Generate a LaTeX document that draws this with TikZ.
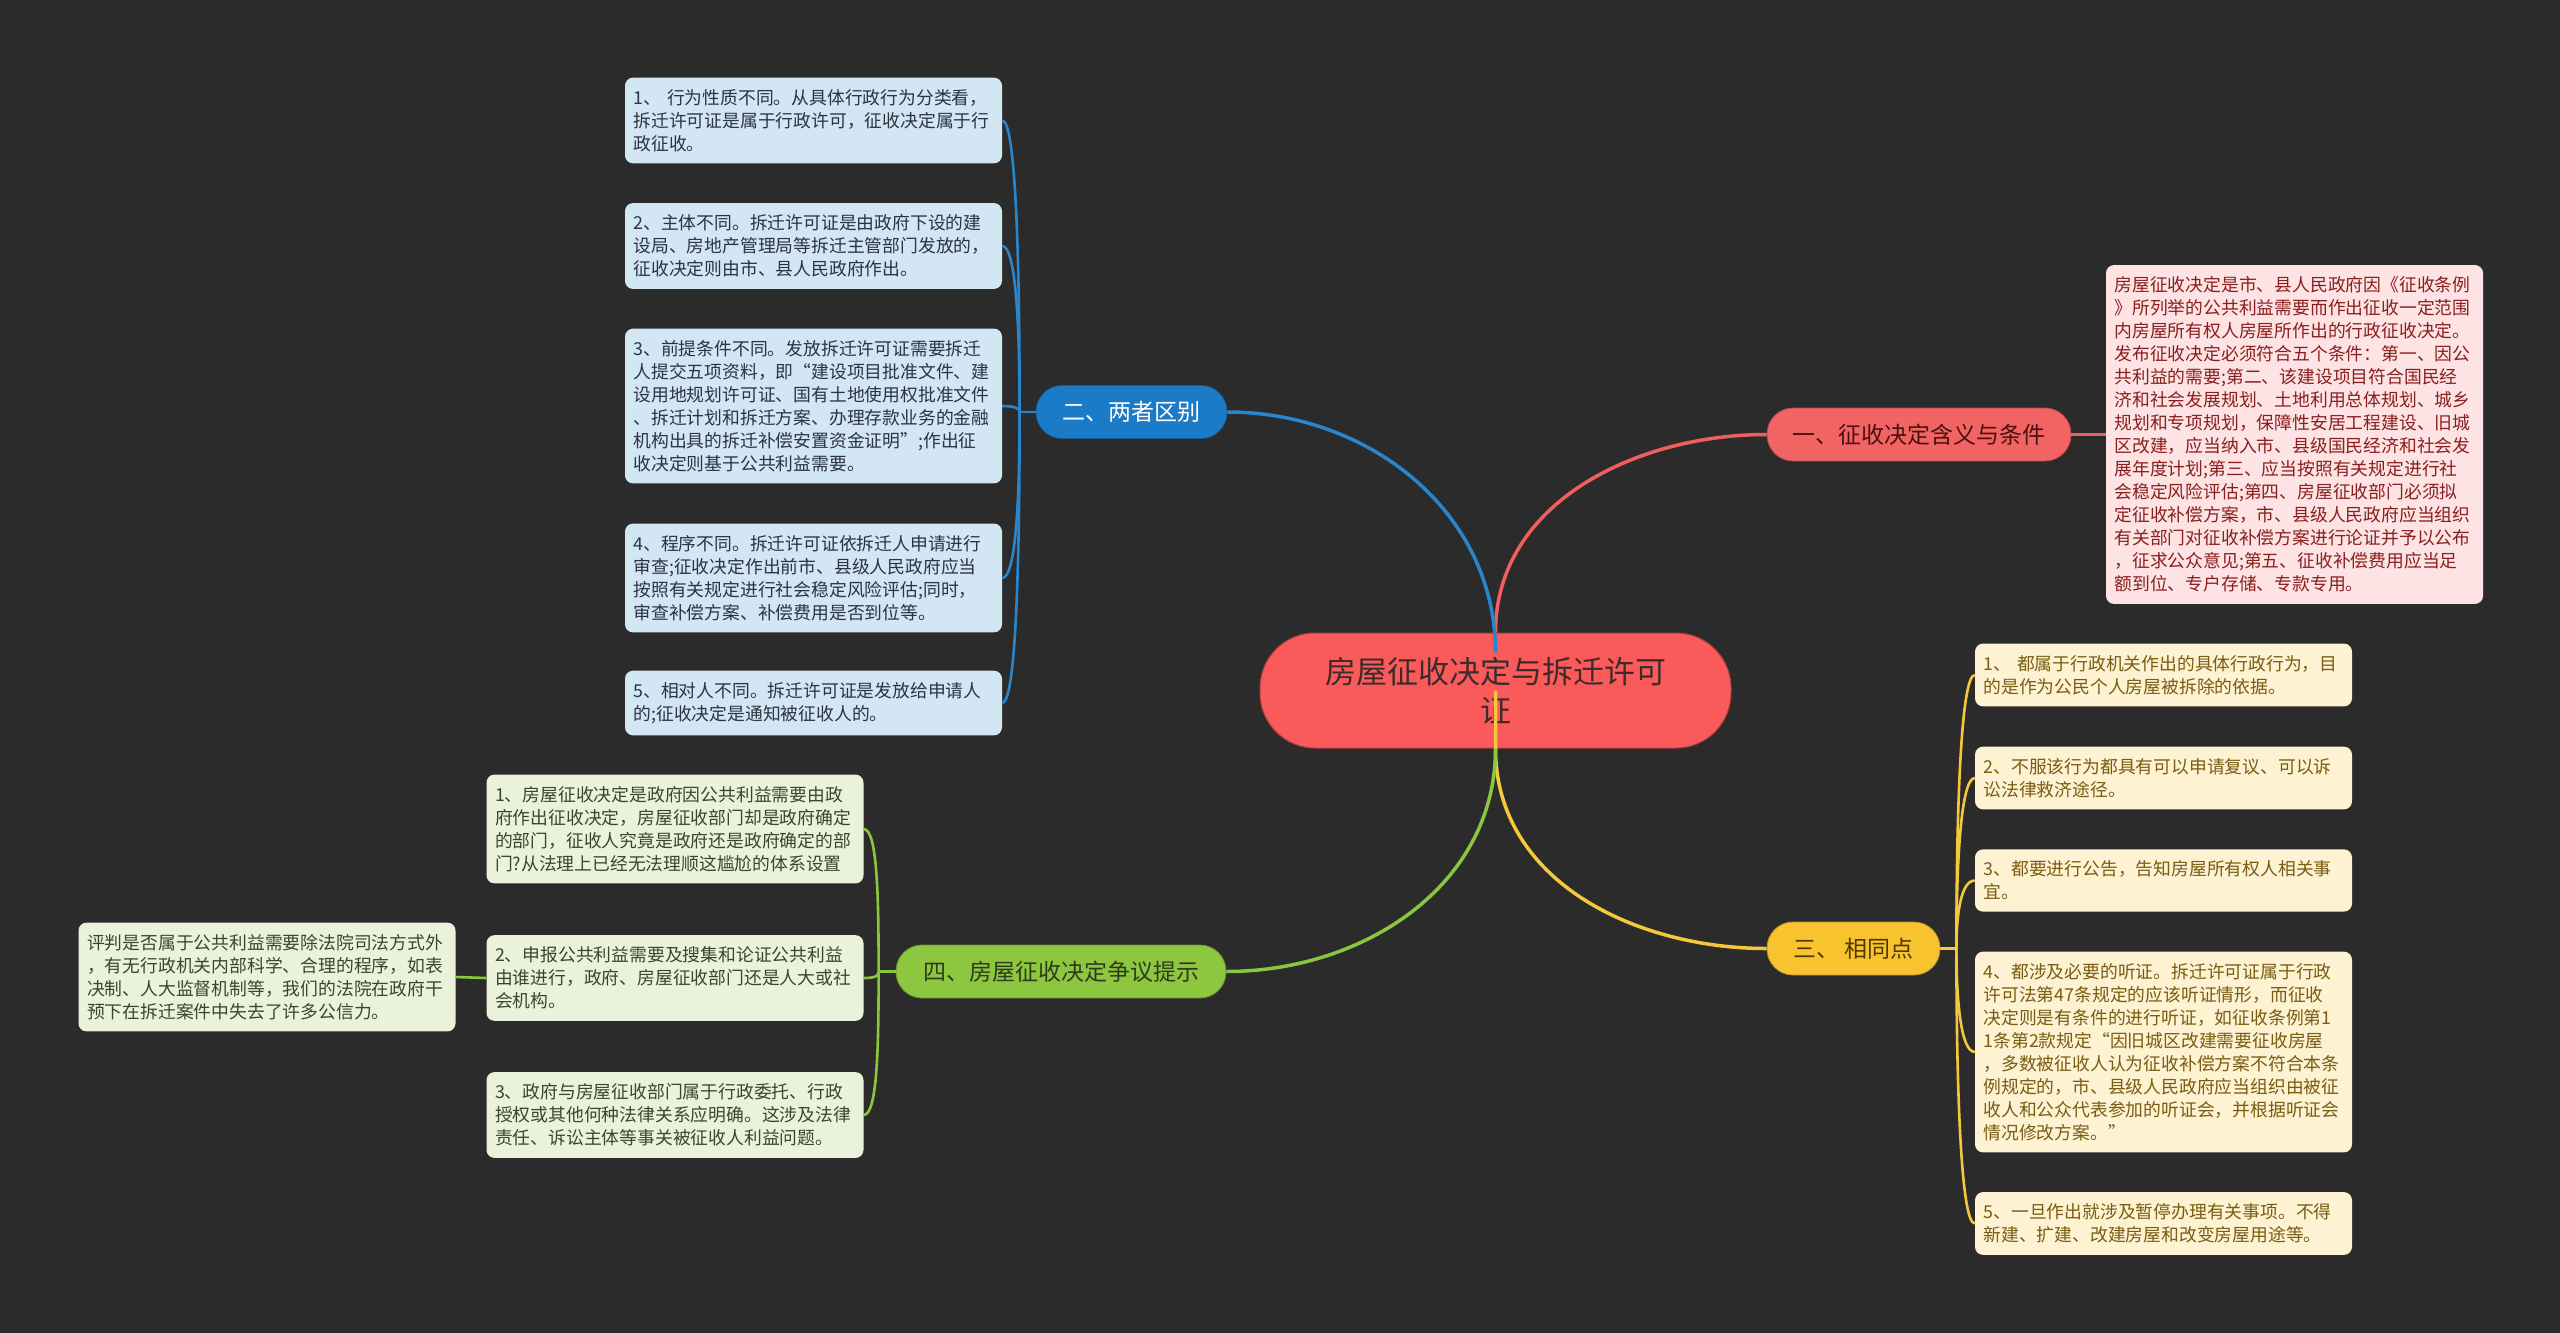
\documentclass[tikz,border=0pt]{standalone}
\usepackage{fontspec}
\setmainfont{Noto Sans CJK SC}
\usetikzlibrary{calc}
\definecolor{bgdark}{HTML}{2B2B2B}
\definecolor{rootred}{HTML}{FA5A5A}
\definecolor{roottext}{HTML}{3D2B2B}
\definecolor{defred}{HTML}{F26363}
\definecolor{deftext}{HTML}{4A1010}
\definecolor{defline}{HTML}{F05E5E}
\definecolor{defpale}{HTML}{FDE3E3}
\definecolor{defleaf}{HTML}{8A1F1F}
\definecolor{diffblue}{HTML}{1C7BC7}
\definecolor{diffline}{HTML}{2986CC}
\definecolor{diffpale}{HTML}{D3E6F4}
\definecolor{diffleaf}{HTML}{2B3440}
\definecolor{sameyel}{HTML}{F9C330}
\definecolor{sametext}{HTML}{4D3A00}
\definecolor{sameline}{HTML}{F5C83C}
\definecolor{samepale}{HTML}{FDF2D2}
\definecolor{sameleaf}{HTML}{7A5C12}
\definecolor{tipgreen}{HTML}{8DC63F}
\definecolor{tiptext}{HTML}{2F3B1C}
\definecolor{tipline}{HTML}{8BC63F}
\definecolor{tippale}{HTML}{EBF2DC}
\definecolor{tipleaf}{HTML}{3A4530}

\begin{document}
\begin{tikzpicture}[x=1pt, y=-1pt,
    root/.style={rectangle, rounded corners=55pt, fill=rootred,
                 draw=rootred!70!black, line width=1pt, minimum width=471pt,
                 minimum height=115pt, align=center, text=roottext,
                 font=\fontsize{31}{39}\selectfont},
    topic/.style={rectangle, rounded corners=26pt, minimum height=53pt,
                  inner sep=0pt, line width=0.8pt, font=\fontsize{23}{28}\selectfont},
    leaf/.style={rectangle, rounded corners=8pt, text width=360pt,
                 inner xsep=8.5pt, inner ysep=11.6pt, align=left,
                 font=\fontsize{17.8}{23}\selectfont},
    redleaf/.style={leaf, fill=defpale, text=defleaf},
    blueleaf/.style={leaf, fill=diffpale, text=diffleaf},
    yelleaf/.style={leaf, fill=samepale, text=sameleaf},
    grnleaf/.style={leaf, fill=tippale, text=tipleaf},
    link/.style={line width=3.5pt},
    twig/.style={line width=2.6pt}
  ]
    \fill[bgdark] (0,0) rectangle (2560,1333);

    \node[root] (c) at (1495.5,690.5) {房屋征收决定与拆迁许可\\证};
    \node[topic, fill=defred, draw=defred!75!black, text=deftext, minimum width=304pt] (def) at (1919,434.5) {一、征收决定含义与条件};
    \node[topic, fill=diffblue, draw=diffblue!75!black, text=white, minimum width=191pt] (diff) at (1131.5,412) {二、两者区别};
    \node[topic, fill=sameyel, draw=sameyel!75!black, text=sametext, minimum width=173pt] (same) at (1853.5,948.5) {三、 相同点};
    \node[topic, fill=tipgreen, draw=tipgreen!75!black, text=tiptext, minimum width=330pt] (tip) at (1061,971.5) {四、房屋征收决定争议提示};

    \draw[link, draw=defline] (c.north) .. controls +(0,-130) and +(-130,0) .. (def.west);
    \draw[link, draw=diffline] ([yshift=-20pt]c.north) .. controls +(0,-141) and +(141,0) .. (diff.east);
    \draw[link, draw=sameline] (c.center) -- (c.south) .. controls +(0,132) and +(-132,0) .. (same.west);
    \draw[link, draw=tipline] (c.south) .. controls +(0,137) and +(137,0) .. (tip.east);

    \node[redleaf] (def1) at (2294.5,434.5) {房屋征收决定是市、县人民政府因《征收条例\\》所列举的公共利益需要而作出征收一定范围\\内房屋所有权人房屋所作出的行政征收决定。\\发布征收决定必须符合五个条件：第一、因公\\共利益的需要;第二、该建设项目符合国民经\\济和社会发展规划、土地利用总体规划、城乡\\规划和专项规划，保障性安居工程建设、旧城\\区改建，应当纳入市、县级国民经济和社会发\\展年度计划;第三、应当按照有关规定进行社\\会稳定风险评估;第四、房屋征收部门必须拟\\定征收补偿方案，市、县级人民政府应当组织\\有关部门对征收补偿方案进行论证并予以公布\\，征求公众意见;第五、征收补偿费用应当足\\额到位、专户存储、专款专用。};

    \node[blueleaf] (diff1) at (813.5,120.5) {1、 行为性质不同。从具体行政行为分类看，\\拆迁许可证是属于行政许可，征收决定属于行\\政征收。};
    \node[blueleaf] (diff2) at (813.5,246) {2、主体不同。拆迁许可证是由政府下设的建\\设局、房地产管理局等拆迁主管部门发放的，\\征收决定则由市、县人民政府作出。};
    \node[blueleaf] (diff3) at (813.5,406) {3、前提条件不同。发放拆迁许可证需要拆迁\\人提交五项资料，即“建设项目批准文件、建\\设用地规划许可证、国有土地使用权批准文件\\、拆迁计划和拆迁方案、办理存款业务的金融\\机构出具的拆迁补偿安置资金证明”;作出征\\收决定则基于公共利益需要。};
    \node[blueleaf] (diff4) at (813.5,578) {4、程序不同。拆迁许可证依拆迁人申请进行\\审查;征收决定作出前市、县级人民政府应当\\按照有关规定进行社会稳定风险评估;同时，\\审查补偿方案、补偿费用是否到位等。};
    \node[blueleaf] (diff5) at (813.5,703) {5、相对人不同。拆迁许可证是发放给申请人\\的;征收决定是通知被征收人的。};

    \node[yelleaf] (same1) at (2163.5,675) {1、 都属于行政机关作出的具体行政行为，目\\的是作为公民个人房屋被拆除的依据。};
    \node[yelleaf] (same2) at (2163.5,778) {2、不服该行为都具有可以申请复议、可以诉\\讼法律救济途径。};
    \node[yelleaf] (same3) at (2163.5,880.5) {3、都要进行公告，告知房屋所有权人相关事\\宜。};
    \node[yelleaf] (same4) at (2163.5,1052) {4、都涉及必要的听证。拆迁许可证属于行政\\许可法第47条规定的应该听证情形，而征收\\决定则是有条件的进行听证，如征收条例第1\\1条第2款规定“因旧城区改建需要征收房屋\\，多数被征收人认为征收补偿方案不符合本条\\例规定的，市、县级人民政府应当组织由被征\\收人和公众代表参加的听证会，并根据听证会\\情况修改方案。”};
    \node[yelleaf] (same5) at (2163.5,1223.5) {5、一旦作出就涉及暂停办理有关事项。不得\\新建、扩建、改建房屋和改变房屋用途等。};

    \node[grnleaf] (tip1) at (675,829) {1、房屋征收决定是政府因公共利益需要由政\\府作出征收决定，房屋征收部门却是政府确定\\的部门，征收人究竟是政府还是政府确定的部\\门?从法理上已经无法理顺这尴尬的体系设置};
    \node[grnleaf] (tip2) at (675,978) {2、申报公共利益需要及搜集和论证公共利益\\由谁进行，政府、房屋征收部门还是人大或社\\会机构。};
    \node[grnleaf] (tip3) at (675,1115) {3、政府与房屋征收部门属于行政委托、行政\\授权或其他何种法律关系应明确。这涉及法律\\责任、诉讼主体等事关被征收人利益问题。};
    \node[grnleaf] (tip2a) at (267,977) {评判是否属于公共利益需要除法院司法方式外\\，有无行政机关内部科学、合理的程序，如表\\决制、人大监督机制等，我们的法院在政府干\\预下在拆迁案件中失去了许多公信力。};

    \draw[twig, draw=defline] (def.east) -- (def1.west);

    \coordinate (dt) at ([xshift=-16pt]diff.west);
    \draw[twig, draw=diffline] (diff.west) -- (dt);
    \foreach \k in {1,...,5}
      \draw[twig, draw=diffline] (dt) .. controls ($(dt)!.5!(dt |- diff\k.east)$) and ([xshift=14pt]diff\k.east) .. (diff\k.east);

    \coordinate (st) at ([xshift=16pt]same.east);
    \draw[twig, draw=sameline] (same.east) -- (st);
    \foreach \k in {1,...,5}
      \draw[twig, draw=sameline] (st) .. controls ($(st)!.5!(st |- same\k.west)$) and ([xshift=-14pt]same\k.west) .. (same\k.west);

    \coordinate (tt) at ([xshift=-17pt]tip.west);
    \draw[twig, draw=tipline] (tip.west) -- (tt);
    \foreach \k in {1,2,3}
      \draw[twig, draw=tipline] (tt) .. controls ($(tt)!.5!(tt |- tip\k.east)$) and ([xshift=14pt]tip\k.east) .. (tip\k.east);
    \draw[twig, draw=tipline] (tip2.west) -- (tip2a.east);
  \end{tikzpicture}
\end{document}
